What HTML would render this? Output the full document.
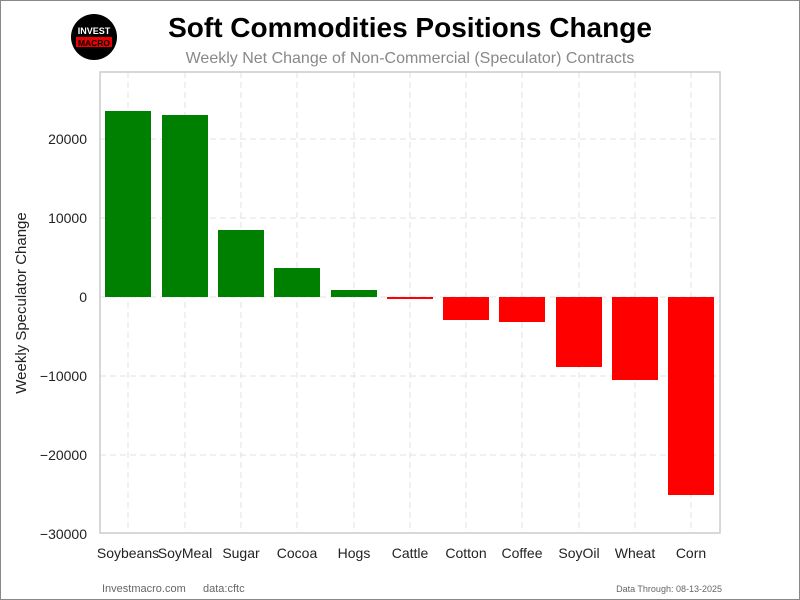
<!DOCTYPE html>
<html><head><style>
body{margin:0;background:#fff;}
svg{display:block;font-family:"Liberation Sans",sans-serif;}
</style></head><body>
<svg width="800" height="600" viewBox="0 0 800 600">
<rect x="0.5" y="0.5" width="799" height="599" fill="#fff" stroke="#888"/>
<circle cx="94" cy="37" r="23" fill="#000"/>
<text x="94" y="34" font-size="9" font-weight="bold" fill="#fff" text-anchor="middle">INVEST</text>
<rect x="76" y="37" width="36" height="10" fill="#e00"/>
<text x="94" y="46" font-size="8.5" font-weight="bold" fill="#000" text-anchor="middle">MACRO</text>
<text x="410" y="37" font-size="28" font-weight="bold" text-anchor="middle" fill="#000">Soft Commodities Positions Change</text>
<text x="410" y="63" font-size="16" text-anchor="middle" fill="#888">Weekly Net Change of Non-Commercial (Speculator) Contracts</text>
<g stroke="#e0e0e0" stroke-dasharray="6,4" stroke-width="1">
<line x1="100" x2="720" y1="139" y2="139"/><line x1="100" x2="720" y1="218" y2="218"/>
<line x1="100" x2="720" y1="297" y2="297"/><line x1="100" x2="720" y1="376" y2="376"/>
<line x1="100" x2="720" y1="455" y2="455"/>
<line x1="128" x2="128" y1="72" y2="533"/><line x1="185" x2="185" y1="72" y2="533"/>
<line x1="241" x2="241" y1="72" y2="533"/><line x1="297" x2="297" y1="72" y2="533"/>
<line x1="354" x2="354" y1="72" y2="533"/><line x1="410" x2="410" y1="72" y2="533"/>
<line x1="466" x2="466" y1="72" y2="533"/><line x1="522" x2="522" y1="72" y2="533"/>
<line x1="579" x2="579" y1="72" y2="533"/><line x1="635" x2="635" y1="72" y2="533"/>
<line x1="691" x2="691" y1="72" y2="533"/>
</g>
<rect x="100" y="72" width="620" height="461" fill="none" stroke="#ccc" stroke-width="1.5"/>
<g fill="#008000">
<rect x="105" y="111" width="46" height="186"/><rect x="162" y="115" width="46" height="182"/>
<rect x="218" y="230" width="46" height="67"/><rect x="274" y="268" width="46" height="29"/>
<rect x="331" y="290" width="46" height="7"/>
</g>
<g fill="#ff0000">
<rect x="387" y="297" width="46" height="2"/><rect x="443" y="297" width="46" height="23"/>
<rect x="499" y="297" width="46" height="25"/><rect x="556" y="297" width="46" height="70"/>
<rect x="612" y="297" width="46" height="83"/><rect x="668" y="297" width="46" height="198"/>
</g>
<g font-size="14" fill="#222" text-anchor="end">
<text x="87" y="144">20000</text><text x="87" y="223">10000</text><text x="87" y="302">0</text>
<text x="87" y="381">−10000</text><text x="87" y="460">−20000</text><text x="87" y="539">−30000</text>
</g>
<g font-size="14" fill="#222" text-anchor="middle">
<text x="128" y="558">Soybeans</text><text x="185" y="558">SoyMeal</text><text x="241" y="558">Sugar</text>
<text x="297" y="558">Cocoa</text><text x="354" y="558">Hogs</text><text x="410" y="558">Cattle</text>
<text x="466" y="558">Cotton</text><text x="522" y="558">Coffee</text><text x="579" y="558">SoyOil</text>
<text x="635" y="558">Wheat</text><text x="691" y="558">Corn</text>
</g>
<text transform="translate(26,303) rotate(-90)" font-size="15" fill="#222" text-anchor="middle">Weekly Speculator Change</text>
<text x="102" y="592" font-size="11" fill="#666">Investmacro.com</text>
<text x="203" y="592" font-size="11" fill="#666">data:cftc</text>
<text x="722" y="592" font-size="9" fill="#666" text-anchor="end">Data Through: 08-13-2025</text>
</svg>
</body></html>
